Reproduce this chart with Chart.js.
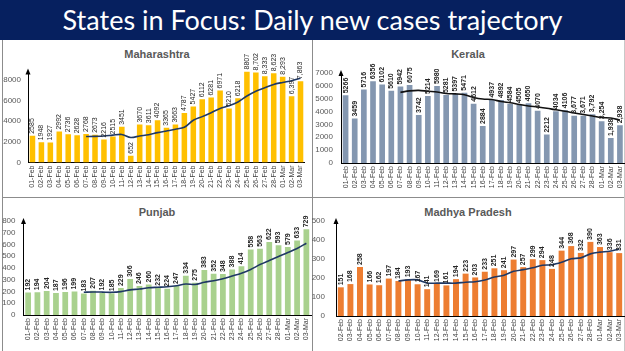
<!DOCTYPE html>
<html>
<head>
<meta charset="utf-8">
<script src="https://cdn.jsdelivr.net/npm/chart.js@4.4.1/dist/chart.umd.min.js"></script>
<style>
html, body { margin: 0; padding: 0; overflow: hidden; background: #fff; }
body { width: 625px; height: 351px; position: relative; font-family: Arial, "Liberation Sans", sans-serif; }
#head { position: absolute; left: 0; top: 0; width: 625px; height: 40px; background: #06205f;
  color: #fff; font-family: Lato, "Open Sans", sans-serif; font-size: 27px; line-height: 40px; text-align: center; }
.line { position: absolute; background: #8c8c8c; }
.ptitle { position: absolute; font-weight: bold; font-size: 11px; color: #595959; text-align: center; }
canvas { position: absolute; }
</style>
</head>
<body>
<div id="head">States in Focus: Daily new cases trajectory</div>
<div class="line" style="left:2px;top:40px;width:1px;height:311px"></div>
<div class="line" style="left:312px;top:40px;width:1px;height:311px"></div>
<div class="line" style="left:2px;top:197px;width:622px;height:1px"></div>
<div class="line" style="left:624px;top:40px;width:1px;height:311px;background:#c8c8c8"></div>
<div class="ptitle" style="left:2px;top:48px;width:310px">Maharashtra</div>
<div class="ptitle" style="left:312px;top:48px;width:312px">Kerala</div>
<div class="ptitle" style="left:2px;top:206px;width:310px">Punjab</div>
<div class="ptitle" style="left:312px;top:206px;width:312px">Madhya Pradesh</div>

<div style="position:absolute;left:0px;top:41px;"><canvas id="c1" width="312" height="156" style="width:312px;height:156px"></canvas></div>
<div style="position:absolute;left:312px;top:41px;"><canvas id="c2" width="320" height="156" style="width:320px;height:156px"></canvas></div>
<div style="position:absolute;left:0px;top:198px;"><canvas id="c3" width="320" height="153" style="width:320px;height:153px"></canvas></div>
<div style="position:absolute;left:312px;top:198px;"><canvas id="c4" width="320" height="153" style="width:320px;height:153px"></canvas></div>

<script>
// dates (01-Feb .. 03-Mar)
var dates = ["01-Feb","02-Feb","03-Feb","04-Feb","05-Feb","06-Feb","07-Feb","08-Feb","09-Feb","10-Feb",
	"11-Feb","12-Feb","13-Feb","14-Feb","15-Feb","16-Feb","17-Feb","18-Feb","19-Feb","20-Feb",
	"21-Feb","22-Feb","23-Feb","24-Feb","25-Feb","26-Feb","27-Feb","28-Feb","01-Mar","02-Mar","03-Mar"];
var datesMP = dates.slice(1);

// daily new cases
var maha = [2585,1948,1927,2992,2736,2628,2768,2673,2216,2515,3451,652,3670,3611,4092,3365,3663,4787,5427,6112,6281,6971,5210,6218,8807,8702,8333,8623,8293,6397,7863];
var kerala = [5266,3459,5716,6356,6102,5610,5942,6075,3742,5214,5980,5281,5397,5471,4612,2884,4937,4892,4584,4505,4650,4070,2212,4034,4106,3677,3671,3792,3254,1938,2938];
var punjab = [192,194,204,187,196,199,183,207,192,185,229,306,246,260,232,224,247,334,275,383,352,348,388,414,558,563,622,593,579,633,729];
var mp = [151,168,258,166,162,197,184,193,167,141,169,161,194,223,203,233,251,241,297,257,299,294,248,344,368,332,390,363,336,331];

// trend lines (7 day average)
var mahaAvg = [null,null,null,null,null,null,2512,2525,2563,2647,2712,2415,2564,2684,2887,3051,3215,3406,4088,4437,4818,5229,5493,5858,6432,6900,7217,7552,7741,7910,8145];
var keralaAvg = [null,null,null,null,null,null,5493,5609,5649,5577,5524,5406,5376,5309,5100,4977,4937,4782,4682,4555,4438,4360,4264,4135,4023,3894,3775,3652,3535,3496,3340];
var punjabAvg = [null,null,null,null,null,null,194,196,195,193,199,214,221,232,236,240,249,264,260,279,292,309,332,356,388,429,464,498,531,566,611];
var mpAvg = [null,null,null,null,null,null,184,190,190,173,173,173,173,178,180,189,205,215,235,244,254,267,270,283,301,306,327,336,341,352];

// y axis ticks
var mahaTicks = [0,2000,4000,6000,8000];
var keralaTicks = [0,1000,2000,3000,4000,5000,6000,7000];
var punjabTicks = [0,100,200,300,400,500,600,700,800];
var mpTicks = [0,100,200,300,400,500];
var mahaMax = 8800, keralaMax = 7000, punjabMax = 800, mpMax = 500;

function fmt(v, i, commaFrom){
	if(commaFrom!=null && i>=commaFrom) return v.toLocaleString('en-US');
	return String(v);
}

var barLabels = {
	id: 'barLabels',
	afterDatasetsDraw: function(chart, args, opts){
		var ctx = chart.ctx;
		var meta = chart.getDatasetMeta(0);
		var vals = chart.data.datasets[0].data;
		ctx.save();
		ctx.font = opts.weight + ' 7px Arial, "Liberation Sans", sans-serif';
		ctx.fillStyle = '#262626';
		ctx.textAlign = 'left';
		ctx.textBaseline = 'middle';
		for(var i=0;i<meta.data.length;i++){
			var el = meta.data[i];
			ctx.save();
			ctx.translate(el.x, el.y - 2);
			ctx.rotate(-Math.PI/2);
			ctx.fillText(fmt(vals[i], i, opts.commaFrom), 0, 0);
			ctx.restore();
		}
		ctx.restore();
	}
};

var axisArrow = {
	id: 'axisArrow',
	afterDraw: function(chart){
		var ctx = chart.ctx, a = chart.chartArea;
		ctx.save();
		ctx.fillStyle = '#000';
		ctx.beginPath();
		ctx.moveTo(a.left, a.top - 3);
		ctx.lineTo(a.left - 2.5, a.top + 3);
		ctx.lineTo(a.left + 2.5, a.top + 3);
		ctx.closePath();
		ctx.fill();
		ctx.restore();
	}
};

function series_chart(id, labels, bars, avg, barColor, lineColor, max, yticks, box){
	var ctx = document.getElementById(id).getContext('2d');
	var h = ctx.canvas.height;
	return new Chart(ctx, {
		type: 'bar',
		data: {
			labels: labels,
			datasets: [{
				type: 'bar', data: bars, backgroundColor: barColor,
				barPercentage: 0.62, categoryPercentage: 1, order: 2
			},{
				type: 'line', data: avg, borderColor: lineColor, borderWidth: 1.6,
				pointRadius: 0, tension: 0.3, fill: false, order: 1, spanGaps: false
			}]
		},
		options: {
			responsive: false,
			animation: false,
			events: [],
			layout: { padding: { left: 0, top: box.top, right: box.right, bottom: 0 } },
			plugins: {
				legend: { display: false },
				tooltip: { enabled: false },
				barLabels: { weight: box.weight, commaFrom: box.commaFrom }
			},
			scales: {
				x: {
					grid: { display: false, drawTicks: false },
					border: { display: true, color: '#000', width: 1 },
					ticks: { autoSkip: false, maxRotation: 90, minRotation: 90, padding: 3,
						color: '#404040', font: { size: 7, family: 'Arial, "Liberation Sans", sans-serif' } },
					afterFit: function(s){ s.height = h - box.bottom; }
				},
				y: {
					min: 0, max: max,
					grid: { display: false, drawTicks: false },
					border: { display: true, color: '#000', width: 1 },
					ticks: { padding: box.tickPad, color: '#595959', autoSkip: false,
						font: { size: 8, family: 'Arial, "Liberation Sans", sans-serif' },
						callback: function(v){ return String(v); } },
					afterBuildTicks: function(s){
						s.ticks = yticks.map(function(v){ return { value: v }; });
					},
					afterFit: function(s){ s.width = box.left; }
				}
			}
		},
		plugins: [barLabels, axisArrow]
	});
}

series_chart('c1', dates, maha, mahaAvg, '#ffc000', '#1f3864', mahaMax, mahaTicks,
	{ left: 28, top: 30.5, right: 5, bottom: 121.5, tickPad: 7, weight: 'normal', commaFrom: 25 });
series_chart('c2', dates, kerala, keralaAvg, '#8497b0', '#111111', keralaMax, keralaTicks,
	{ left: 29, top: 32, right: 7.5, bottom: 122, tickPad: 8, weight: 'bold', commaFrom: 25 });
series_chart('c3', dates, punjab, punjabAvg, '#a9d18e', '#1f3864', punjabMax, punjabTicks,
	{ left: 23.5, top: 23, right: 9, bottom: 117, tickPad: 8, weight: 'bold', commaFrom: null });
series_chart('c4', datesMP, mp, mpAvg, '#ed7d31', '#1f3864', mpMax, mpTicks,
	{ left: 24, top: 23, right: 8, bottom: 118, tickPad: 11, weight: 'bold', commaFrom: null });
</script>
</body>
</html>
